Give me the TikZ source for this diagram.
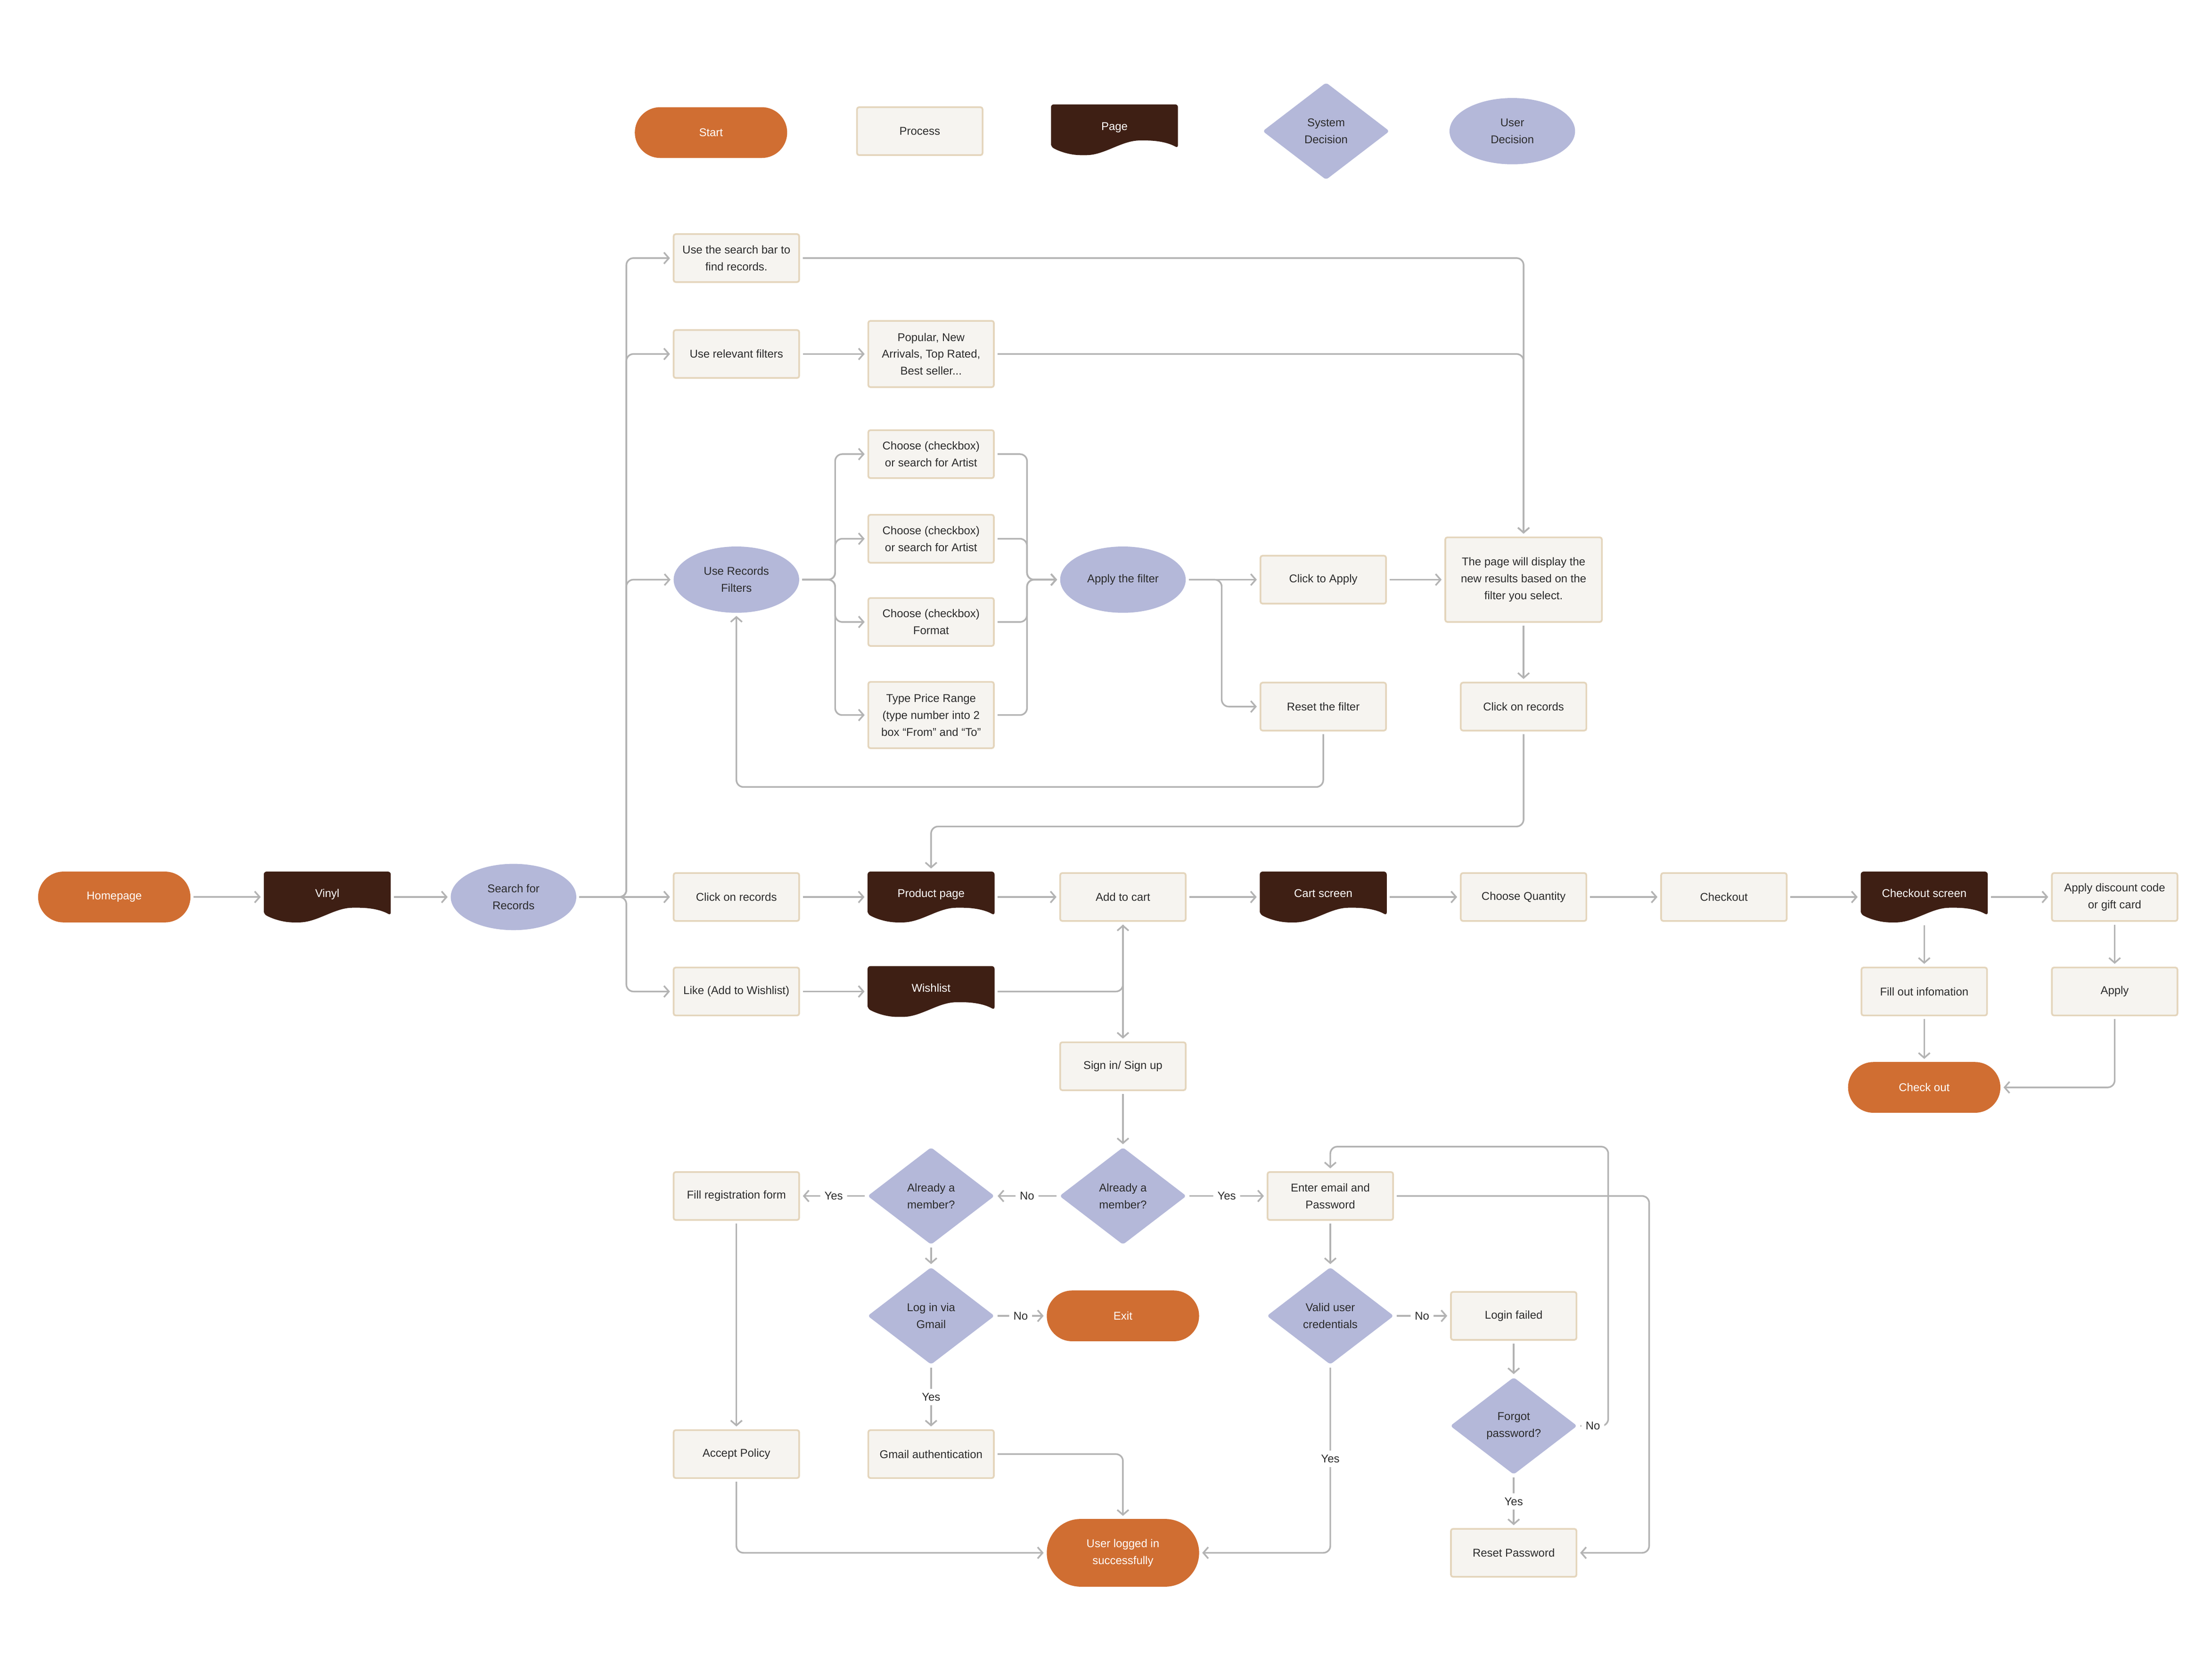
\documentclass[tikz,border=0pt]{standalone}
\usepackage{fontspec}
\setmainfont{Liberation Sans}
\usetikzlibrary{arrows.meta,shapes.geometric,shapes.misc}
\definecolor{termcol}{HTML}{D06E32}
\definecolor{pagecol}{HTML}{3E1F14}
\definecolor{deccol}{HTML}{B4B8D9}
\definecolor{procfill}{HTML}{F6F4F0}
\definecolor{procline}{HTML}{E4D5BC}
\definecolor{linecol}{HTML}{B3B3B3}
\definecolor{textcol}{HTML}{2A2A2A}
% page shape: dark sheet with a wavy lower edge
\newcommand{\drawpage}[3]{%
	\fill[pagecol,rounded corners=2pt,shift={#2}] (-45,12) -- (-45,-18) -- (45,-18) -- (45,13)
		.. controls (38,9) and (30,7.6) .. (20,7.6) .. controls (5,7.6) and (-7,18) .. (-22,18)
		.. controls (-32,18) and (-40,15) .. (-45,12) -- cycle;
	\node[page] (#1) at #2 {#3};}
\begin{document}
\begin{tikzpicture}[x=1pt,y=-1pt,
	font=\fontsize{8}{12}\selectfont,
	proc/.style={rectangle,draw=procline,fill=procfill,line width=1.2pt,rounded corners=1.5pt,minimum width=89pt,minimum height=34pt,inner sep=1pt,align=center,text=textcol},
	term/.style={rounded rectangle,fill=termcol,text=white,minimum width=110pt,minimum height=36pt,inner sep=1pt,align=center},
	page/.style={rectangle,minimum width=90pt,minimum height=36pt,inner sep=0pt,text height=6pt,text depth=5.5pt,text=white,align=center},
	sdec/.style={diamond,fill=deccol,rounded corners=2pt,minimum width=90pt,minimum height=69pt,inner sep=0pt,align=center,text=textcol},
	udec/.style={ellipse,fill=deccol,minimum width=89pt,minimum height=47pt,inner sep=0pt,align=center,text=textcol},
	arr/.style={draw=linecol,line width=1.15pt,rounded corners=5pt,shorten <=2pt,shorten >=2pt,-{Straight Barb[length=3.5pt,width=8pt]}},
	lbl/.style={fill=white,text=textcol,inner sep=3pt}]
	\useasboundingbox (0,0) rectangle (1568,1174);
	% legend
	\node[term] (start) at (504,94) {Start};
	\node[proc] (proc) at (652,93) {Process};
	\drawpage{pg}{(790,92)}{Page};
	\node[sdec] (sd) at (940,93) {System\\Decision};
	\node[udec] (ud) at (1072,93) {User\\Decision};
	% browsing
	\node[term] (home) at (81,636) {Homepage};
	\drawpage{vinyl}{(232,636)}{Vinyl};
	\node[udec] (search) at (364,636) {Search for\\Records};
	\node[proc] (bar) at (522,183) {Use the search bar to\\find records.};
	\node[proc] (filt) at (522,251) {Use relevant filters};
	\node[proc,minimum height=47pt] (pop) at (660,251) {Popular, New\\Arrivals, Top Rated,\\Best seller...};
	\node[udec] (recf) at (522,411) {Use Records\\Filters};
	\node[proc] (art1) at (660,322) {Choose (checkbox)\\or search for Artist};
	\node[proc] (art2) at (660,382) {Choose (checkbox)\\or search for Artist};
	\node[proc] (fmt) at (660,441) {Choose (checkbox)\\Format};
	\node[proc,minimum height=47pt] (price) at (660,507) {Type Price Range\\(type number into 2\\box “From" and “To”};
	\node[udec] (apply) at (796,411) {Apply the filter};
	\node[proc] (clkapply) at (938,411) {Click to Apply};
	\node[proc] (reset) at (938,501) {Reset the filter};
	\node[proc,minimum width=111pt,minimum height=60pt] (display) at (1080,411) {The page will display the\\new results based on the\\filter you select.};
	\node[proc] (click2) at (1080,501) {Click on records};
	\node[proc] (click) at (522,636) {Click on records};
	\node[proc] (like) at (522,703) {Like (Add to Wishlist)};
	\drawpage{prod}{(660,636)}{Product page};
	\drawpage{wish}{(660,703)}{Wishlist};
	% cart and checkout
	\node[proc] (cart) at (796,636) {Add to cart};
	\drawpage{cartscr}{(938,636)}{Cart screen};
	\node[proc] (qty) at (1080,636) {Choose Quantity};
	\node[proc] (chk) at (1222,636) {Checkout};
	\drawpage{coscr}{(1364,636)}{Checkout screen};
	\node[proc] (disc) at (1499,636) {Apply discount code\\or gift card};
	\node[proc] (info) at (1364,703) {Fill out infomation};
	\node[proc] (applyd) at (1499,703) {Apply};
	\node[term] (done) at (1364,771) {Check out};
	% sign in
	\node[proc] (sign) at (796,756) {Sign in/ Sign up};
	\node[sdec] (mem1) at (796,848) {Already a\\member?};
	\node[sdec] (mem2) at (660,848) {Already a\\member?};
	\node[proc] (reg) at (522,848) {Fill registration form};
	\node[proc] (email) at (943,848) {Enter email and\\Password};
	\node[sdec] (gmail) at (660,933) {Log in via\\Gmail};
	\node[term] (exit) at (796,933) {Exit};
	\node[proc] (gauth) at (660,1031) {Gmail authentication};
	\node[proc] (policy) at (522,1031) {Accept Policy};
	\node[term,minimum height=48pt] (logged) at (796,1101) {User logged in\\successfully};
	\node[sdec] (valid) at (943,933) {Valid user\\credentials};
	\node[proc] (fail) at (1073,933) {Login failed};
	\node[sdec] (forgot) at (1073,1011) {Forgot\\password?};
	\node[proc] (resetpw) at (1073,1101) {Reset Password};
	% waypoints
	\coordinate (fork) at (444,636);
	\coordinate (ffork) at (592,411);
	\coordinate (jfork) at (728,411);
	\coordinate (afork) at (866,411);
	\coordinate (back) at (700,558);
	\coordinate (back2) at (900,586);
	\coordinate (ntop) at (1000,813);
	\coordinate (nofork) at (1140,1011);
	\coordinate (rr) at (1169,975);
	% connectors
	\draw[arr] (home) -- (vinyl);
	\draw[arr] (vinyl) -- (search);
	\foreach \n in {bar,filt,recf,like}
		\draw[arr] (search.east) -- (fork) |- (\n.west);
	\draw[arr] (filt) -- (pop);
	\foreach \n in {art1,art2,fmt,price}
		\draw[arr] (recf.east) -- (ffork) |- (\n.west);
	\foreach \n in {art1,art2,fmt,price}
		\draw[arr] (\n.east) -| (jfork) -- (apply.west);
	\draw[arr] (apply) -- (clkapply);
	\draw[arr] (apply.east) -- (afork) |- (reset.west);
	\draw[arr] (clkapply) -- (display);
	\draw[arr] (bar.east) -| (display.north);
	\draw[arr] (pop.east) -| (display.north);
	\draw[arr] (display) -- (click2);
	\draw[arr] (reset.south) |- (back) -| (recf.south);
	\draw[arr] (click2.south) |- (back2) -| (prod.north);
	\foreach \a/\b in {search/click,click/prod,prod/cart,cart/cartscr,cartscr/qty,qty/chk,chk/coscr,coscr/disc,like/wish}
		\draw[arr] (\a) -- (\b);
	\draw[arr] (coscr.south) -- (info.north);
	\draw[arr] (disc) -- (applyd);
	\draw[arr] (info) -- (done);
	\draw[arr] (applyd.south) |- (done.east);
	\draw[arr] (wish.east) -| (cart.south);
	\draw[arr] (cart) -- (sign);
	\draw[arr] (sign) -- (mem1);
	\draw[arr] (mem1) -- node[lbl]{Yes} (email);
	\draw[arr] (mem1) -- node[lbl]{No} (mem2);
	\draw[arr] (mem2) -- node[lbl]{Yes} (reg);
	\draw[arr] (mem2) -- (gmail);
	\draw[arr] (gmail) -- node[lbl]{No} (exit);
	\draw[arr] (gmail) -- node[lbl]{Yes} (gauth);
	\draw[arr] (reg) -- (policy);
	\draw[arr] (policy.south) |- (logged.west);
	\draw[arr] (gauth.east) -| (logged.north);
	\draw[arr] (email) -- (valid);
	\draw[arr] (valid) -- node[lbl]{No} (fail);
	\draw[arr] (valid.south) |- node[lbl,pos=0.25]{Yes} (logged.east);
	\draw[arr] (fail) -- (forgot);
	\draw[arr] (forgot) -- node[lbl]{Yes} (resetpw);
	\draw[arr] (forgot.east) -- node[lbl]{No} (nofork) |- (ntop) -| (email.north);
	\draw[arr] (email.east) -| (rr) |- (resetpw.east);
\end{tikzpicture}
\end{document}
